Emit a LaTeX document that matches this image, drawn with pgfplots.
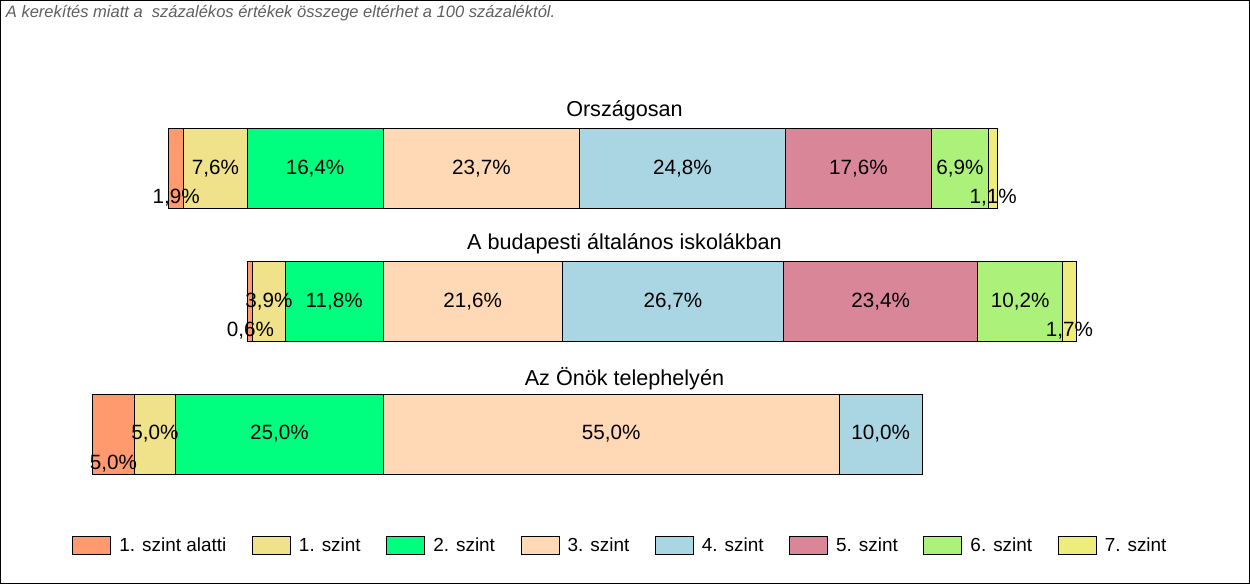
\documentclass[border=0pt]{standalone}
\usepackage{pgfplots}
\usepackage{pgfplotstable}
\pgfplotsset{compat=1.18}
\usepackage{fontspec}
\setmainfont{Liberation Sans}

\definecolor{lv0}{RGB}{255,153,110}
\definecolor{lv1}{RGB}{240,226,138}
\definecolor{lv2}{RGB}{0,255,127}
\definecolor{lv3}{RGB}{255,216,182}
\definecolor{lv4}{RGB}{170,214,228}
\definecolor{lv5}{RGB}{216,134,152}
\definecolor{lv6}{RGB}{172,242,122}
\definecolor{lv7}{RGB}{238,236,122}
\definecolor{notegray}{RGB}{95,95,95}

% one row per bar: y position (px from top) and the eight levels in %
\pgfplotstableread{
y lv0 lv1 lv2 lv3 lv4 lv5 lv6 lv7
168 1.9 7.6 16.4 23.7 24.8 17.6 6.9 1.1
}\orsz
\pgfplotstableread{
y lv0 lv1 lv2 lv3 lv4 lv5 lv6 lv7
301 0.6 3.9 11.8 21.6 26.7 23.4 10.2 1.7
}\bp
\pgfplotstableread{
y lv0 lv1 lv2 lv3 lv4
433.5 5.0 5.0 25.0 55.0 10.0
}\telep

\pgfplotsset{
  % #1 = share below 3. szint, so that every bar has the 2./3. boundary at the same spot
  baraxis/.style={
    scale only axis, width=936.75pt, height=437.25pt,
    xmin={#1-46.10}, xmax={#1+104.43}, ymin=0, ymax=583, y dir=reverse,
    xtick=\empty, ytick=\empty,
    xbar stacked, bar width=60pt, clip=false,
  },
  lbl/.style={
    nodes near coords={\pgfmathprintnumber[fixed,fixed zerofill,precision=1,use comma,
      assume math mode=true]{\rawx}\%},
    visualization depends on={\thisrow{#1} \as \rawx},
    every node near coord/.append style={
      font=\fontsize{15.5}{18}\selectfont, text=black, anchor=center},
  },
  lblLow/.style={lbl=#1, every node near coord/.append style={yshift=-22pt}},
  seg/.style={fill=#1, draw=black, line width=0.75pt,
    /pgfplots/legend image code/.code={
      \draw[fill=#1, draw=black, line width=0.75pt] (0pt,-6.4pt) rectangle (28.5pt,6.4pt);}},
}

\begin{document}
\begin{tikzpicture}
\begin{axis}[
  baraxis=25.9,
  axis line style={line width=1pt},
  legend style={at={(axis cs:54.4,545)}, anchor=center, draw=none, fill=none,
    legend columns=8, font=\fontsize{14.2}{16}\selectfont,
    nodes={inner sep=0pt},
    /tikz/every odd column/.append style={column sep=6pt},
    /tikz/every even column/.append style={column sep=19.2pt}},
]
\addplot[seg=lv0, lblLow=lv0] table[x=lv0, y=y] {\orsz};
\addplot[seg=lv1, lbl=lv1] table[x=lv1, y=y] {\orsz};
\addplot[seg=lv2, lbl=lv2] table[x=lv2, y=y] {\orsz};
\addplot[seg=lv3, lbl=lv3] table[x=lv3, y=y] {\orsz};
\addplot[seg=lv4, lbl=lv4] table[x=lv4, y=y] {\orsz};
\addplot[seg=lv5, lbl=lv5] table[x=lv5, y=y] {\orsz};
\addplot[seg=lv6, lbl=lv6] table[x=lv6, y=y] {\orsz};
\addplot[seg=lv7, lblLow=lv7] table[x=lv7, y=y] {\orsz};
\legend{1. szint alatti, 1. szint, 2. szint, 3. szint, 4. szint, 5. szint, 6. szint, 7. szint}

\node[font=\fontsize{16.2}{19}\selectfont] at (axis cs:55.0,110) {Országosan};
\node[font=\fontsize{16.2}{19}\selectfont] at (axis cs:55.0,243) {A budapesti általános iskolákban};
\node[font=\fontsize{16.2}{19}\selectfont] at (axis cs:55.0,378) {Az Önök telephelyén};
\node[anchor=north west, inner sep=0pt, text=notegray,
  font=\itshape\fontsize{12.4}{14}\selectfont] at (axis cs:-19.6,4)
  {A kerekítés miatt a\ \ százalékos értékek összege eltérhet a 100 százaléktól.};
\end{axis}

\begin{axis}[baraxis=16.3, hide axis]
\addplot[seg=lv0, lblLow=lv0] table[x=lv0, y=y] {\bp};
\addplot[seg=lv1, lbl=lv1] table[x=lv1, y=y] {\bp};
\addplot[seg=lv2, lbl=lv2] table[x=lv2, y=y] {\bp};
\addplot[seg=lv3, lbl=lv3] table[x=lv3, y=y] {\bp};
\addplot[seg=lv4, lbl=lv4] table[x=lv4, y=y] {\bp};
\addplot[seg=lv5, lbl=lv5] table[x=lv5, y=y] {\bp};
\addplot[seg=lv6, lbl=lv6] table[x=lv6, y=y] {\bp};
\addplot[seg=lv7, lblLow=lv7] table[x=lv7, y=y] {\bp};
\end{axis}

\begin{axis}[baraxis=35.0, hide axis]
\addplot[seg=lv0, lblLow=lv0] table[x=lv0, y=y] {\telep};
\addplot[seg=lv1, lbl=lv1] table[x=lv1, y=y] {\telep};
\addplot[seg=lv2, lbl=lv2] table[x=lv2, y=y] {\telep};
\addplot[seg=lv3, lbl=lv3] table[x=lv3, y=y] {\telep};
\addplot[seg=lv4, lbl=lv4] table[x=lv4, y=y] {\telep};
\end{axis}
\end{tikzpicture}
\end{document}
